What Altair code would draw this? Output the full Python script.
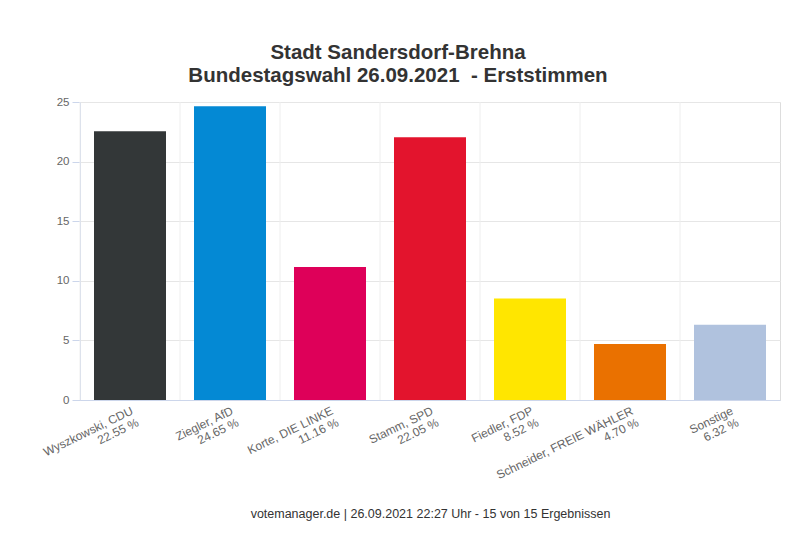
import altair as alt
import pandas as pd

candidates = ["Wyszkowski, CDU", "Ziegler, AfD", "Korte, DIE LINKE", "Stamm, SPD",
              "Fiedler, FDP", "Schneider, FREIE WÄHLER", "Sonstige"]
shares = [22.55, 24.65, 11.16, 22.05, 8.52, 4.70, 6.32]
colors = ["#333738", "#0489d4", "#de0059", "#e3142d", "#ffe600", "#ea7100", "#b0c2de"]
title_lines = ["Stadt Sandersdorf-Brehna", "Bundestagswahl 26.09.2021 \u00a0- Erststimmen"]
footer = "votemanager.de | 26.09.2021 22:27 Uhr - 15 von 15 Ergebnissen"
y_ticks = [0, 5, 10, 15, 20, 25]

labels = [f"{c}|{v:.2f} %" for c, v in zip(candidates, shares)]
df = pd.DataFrame({"label": labels, "share": shares, "color": colors})

FONT = "Liberation Sans"
xscale = alt.Scale(domain=labels, paddingInner=0, paddingOuter=0)
xaxis = alt.Axis(
    title=footer, titleFontSize=12.5, titleFontWeight="normal", titleColor="#333333",
    titleFont=FONT, titleY=117, titleBaseline="alphabetic",
    labelExpr="split(datum.label, '|')", labelAngle=-26, labelAlign="right",
    labelBaseline="top", labelFontSize=12, labelColor="#666666", labelFont=FONT,
    labelPadding=5, labelLineHeight=13, ticks=False, grid=False,
    domainColor="#ccd6eb", labelOverlap=False,
)

bars = alt.Chart(df).mark_bar(width=alt.RelativeBandSize(0.72)).encode(
    x=alt.X("label:N", scale=xscale, sort=labels, axis=xaxis),
    y=alt.Y("share:Q", scale=alt.Scale(domain=[0, 25], nice=False),
            axis=alt.Axis(values=y_ticks, title=None, labelFontSize=11.5, labelColor="#666666",
                          labelFont=FONT, domainColor="#ccd6eb", tickColor="#ccd6eb",
                          tickSize=8, labelPadding=3, gridColor="#e6e6e6")),
    color=alt.Color("color:N", scale=None),
)

grid = alt.Chart(df).mark_rule(color="#eeeeee", strokeWidth=1).encode(
    x=alt.X("label:N", bandPosition=0, scale=xscale, sort=labels, axis=xaxis),
    y=alt.value(0), y2=alt.value(298),
)

chart = alt.layer(grid, bars).properties(
    width=700, height=298,
    padding={"left": 72, "top": 94, "right": 2, "bottom": 127},
    autosize=alt.AutoSizeParams(type="none"),
    title=alt.TitleParams(title_lines, font=FONT, fontSize=20.5, fontWeight="bold",
                          color="#333333", anchor="middle", dx=-32, offset=10,
                          lineHeight=23),
).configure_view(stroke="#eeeeee").configure(background="white")

chart.save("out.html", embed_options={"renderer": "svg", "actions": False})
